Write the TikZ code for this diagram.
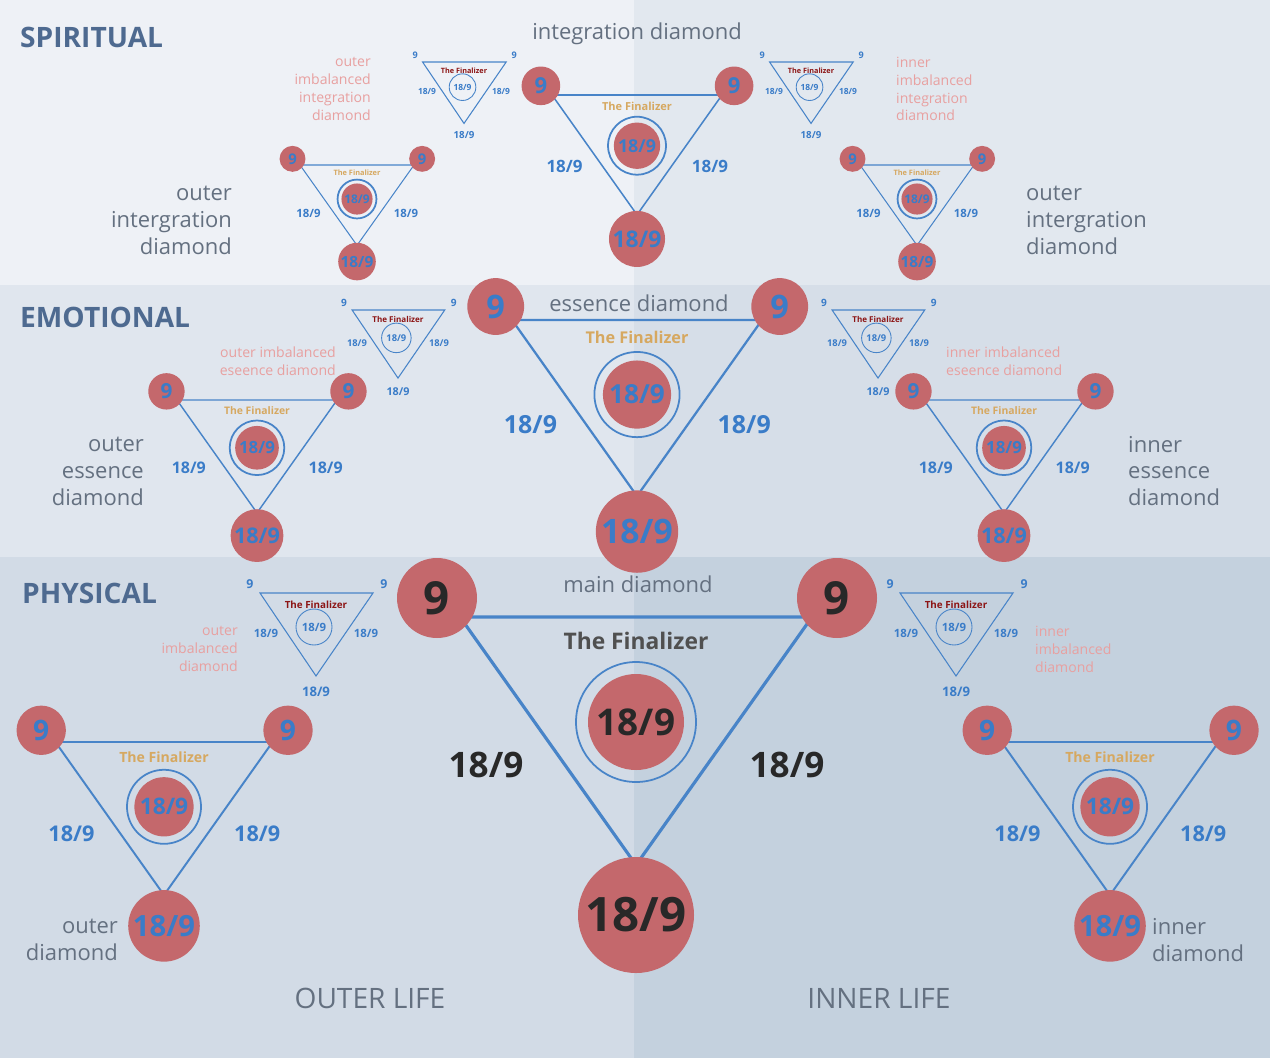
\documentclass[tikz,border=0pt]{standalone}
\usepackage{fontspec}
\setmainfont{Open Sans}
\usetikzlibrary{positioning}

\definecolor{bandSl}{RGB}{238,241,246}
\definecolor{bandSr}{RGB}{226,232,239}
\definecolor{bandEl}{RGB}{224,230,238}
\definecolor{bandEr}{RGB}{214,222,232}
\definecolor{bandPl}{RGB}{210,219,230}
\definecolor{bandPr}{RGB}{196,209,222}
\definecolor{dotred}{RGB}{196,104,108}
\definecolor{lineblue}{RGB}{72,132,200}
\definecolor{numblue}{RGB}{58,124,200}
\definecolor{gold}{RGB}{214,168,96}
\definecolor{darktxt}{RGB}{40,40,40}
\definecolor{finalgray}{RGB}{80,80,80}
\definecolor{bandtxt}{RGB}{78,106,144}
\definecolor{graytxt}{RGB}{100,112,128}
\definecolor{pinktxt}{RGB}{232,160,160}
\definecolor{darkred}{RGB}{140,20,20}

\tikzset{
  dotfill/.style={fill=dotred},
  ring/.style={draw=lineblue, line width=1pt},
  numtxt/.style={inner sep=0pt, font=\bfseries},
  bandlabel/.style={anchor=west, text=bandtxt, font=\fontsize{16}{16}\selectfont\bfseries},
  namelabel/.style={text=graytxt, font=\fontsize{12.5}{12.5}\selectfont},
  sidelabel/.style={text=graytxt, font=\fontsize{12.5}{15.3}\selectfont},
  pinklabel/.style={text=pinktxt, font=\fontsize{8}{10.2}\selectfont},
}

% #1 name, #2 x, #3 y, #4 scale, #5 number colour, #6 finalizer colour
\newcommand{\diamondset}[6]{%
\begin{scope}[shift={(#2,#3)}, scale=#4, transform shape]
  \coordinate (#1-a) at (-176,0);
  \coordinate (#1-b) at (176,0);
  \coordinate (#1-c) at (0,248);
  \draw[lineblue, line width={#4*1.8pt}, line join=round] (#1-a) -- (#1-b) -- (#1-c) -- cycle;
  \fill[dotfill] (-199,-19) circle (40);
  \fill[dotfill] (201,-19) circle (40);
  \fill[dotfill] (0,298) circle (58);
  \fill[dotfill] (0,105) circle (48);
  \draw[ring] (0,105) circle (60);
  \node[numtxt, text=#5, font=\fontsize{26}{26}\selectfont\bfseries] (#1-l) at (-199,-19) {9};
  \node[numtxt, text=#5, font=\fontsize{26}{26}\selectfont\bfseries] (#1-r) at (201,-19) {9};
  \node[numtxt, text=#5, font=\fontsize{27}{27}\selectfont\bfseries] (#1-bot) at (0,298) {18/9};
  \node[numtxt, text=#5, font=\fontsize{21}{21}\selectfont\bfseries] (#1-mid) at (0,105) {18/9};
  \node[numtxt, text=#6, font=\fontsize{13}{13}\selectfont\bfseries] (#1-fin) at (0,24) {The Finalizer};
  \node[numtxt, text=#5, font=\fontsize{20}{20}\selectfont\bfseries] (#1-sl) at (-150,148) {18/9};
  \node[numtxt, text=#5, font=\fontsize{20}{20}\selectfont\bfseries] (#1-sr) at (151,148) {18/9};
\end{scope}}

% #1 name, #2 x, #3 y, #4 scale
\newcommand{\imbalset}[4]{%
\begin{scope}[shift={(#2,#3)}, scale=#4, transform shape]
  \coordinate (#1-a) at (-56,0);
  \coordinate (#1-b) at (57,0);
  \coordinate (#1-c) at (0,83);
  \draw[lineblue, line width=0.6pt] (#1-a) -- (#1-b) -- (#1-c) -- cycle;
  \draw[lineblue, line width=0.5pt] (-2,34) circle (18);
  \node[numtxt, text=darkred, font=\fontsize{5.6}{5.6}\selectfont\bfseries] (#1-fin) at (0,12) {The Finalizer};
  \node[numtxt, text=numblue, font=\fontsize{6.5}{6.5}\selectfont\bfseries] (#1-mid) at (-2,34) {18/9};
  \node[numtxt, text=numblue, font=\fontsize{7}{7}\selectfont\bfseries] (#1-l) at (-66,-9) {9};
  \node[numtxt, text=numblue, font=\fontsize{7}{7}\selectfont\bfseries] (#1-r) at (68,-9) {9};
  \node[numtxt, text=numblue, font=\fontsize{7.5}{7.5}\selectfont\bfseries] (#1-bot) at (0,99) {18/9};
  \node[numtxt, text=numblue, font=\fontsize{6.5}{6.5}\selectfont\bfseries] (#1-sl) at (-50,40) {18/9};
  \node[numtxt, text=numblue, font=\fontsize{6.5}{6.5}\selectfont\bfseries] (#1-sr) at (50,40) {18/9};
\end{scope}}

\begin{document}
\begin{tikzpicture}[x=0.02cm, y=-0.02cm]
\useasboundingbox (0,0) rectangle (1270,1058);
% bands
\fill[bandSl] (0,0) rectangle (634,285);
\fill[bandSr] (634,0) rectangle (1270,285);
\fill[bandEl] (0,285) rectangle (634,557);
\fill[bandEr] (634,285) rectangle (1270,557);
\fill[bandPl] (0,557) rectangle (634,1058);
\fill[bandPr] (634,557) rectangle (1270,1058);

\node[bandlabel] (spiritual) at (14,37) {SPIRITUAL};
\node[bandlabel] (emotional) at (14,317) {EMOTIONAL};
\node[bandlabel] (physical) at (16,593) {PHYSICAL};

% big diamonds
\diamondset{main}{636}{617}{1}{darktxt}{finalgray}
\diamondset{ess}{637}{320}{0.71}{numblue}{gold}
\diamondset{integ}{637}{95}{0.483}{numblue}{gold}
\diamondset{ointeg}{357}{165}{0.324}{numblue}{gold}
\diamondset{iinteg}{917}{165}{0.324}{numblue}{gold}
\diamondset{oess}{257}{400}{0.455}{numblue}{gold}
\diamondset{iess}{1004}{400}{0.455}{numblue}{gold}
\diamondset{outer}{164}{742}{0.617}{numblue}{gold}
\diamondset{inner}{1110}{742}{0.617}{numblue}{gold}

% imbalanced diamonds
\imbalset{oimint}{464}{62}{0.74}
\imbalset{iimint}{811}{62}{0.74}
\imbalset{oimess}{398}{310}{0.82}
\imbalset{iimess}{878}{310}{0.82}
\imbalset{oimphy}{316}{593}{1}
\imbalset{iimphy}{956}{593}{1}

% names
\node[namelabel] (integname) at (637,34) {integration diamond};
\node[namelabel] (essname) at (639,303) {essence diamond};
\node[namelabel] (mainname) at (638,584) {main diamond};
\node[namelabel, font=\fontsize{16}{16}\selectfont] (outerlife) at (370,998) {OUTER LIFE};
\node[namelabel, font=\fontsize{16}{16}\selectfont] (innerlife) at (879,998) {INNER LIFE};

\node[sidelabel, align=right, anchor=east] (ointegtxt) at (238,220) {outer\\intergration\\diamond};
\node[sidelabel, align=left, anchor=west] (iintegtxt) at (1020,220) {outer\\intergration\\diamond};
\node[sidelabel, align=right, anchor=east] (oesstxt) at (150,471) {outer\\essence\\diamond};
\node[sidelabel, align=left, anchor=west] (iesstxt) at (1122,471) {inner\\essence\\diamond};
\node[sidelabel, align=right, anchor=east] (outertxt) at (124,940) {outer\\diamond};
\node[sidelabel, align=left, anchor=west] (innertxt) at (1146,940) {inner\\diamond};

\node[pinklabel, align=right, anchor=east] (oimintxt) at (377,89) {outer\\imbalanced\\integration\\diamond};
\node[pinklabel, align=left, anchor=west] (iimintxt) at (890,89) {inner\\imbalanced\\integration\\diamond};
\node[pinklabel, align=right, anchor=east] (oimesstxt) at (342,361) {outer imbalanced\\eseence diamond};
\node[pinklabel, align=left, anchor=west] (iimesstxt) at (940,361) {inner imbalanced\\eseence diamond};
\node[pinklabel, align=right, anchor=east] (oimphytxt) at (244,649) {outer\\imbalanced\\diamond};
\node[pinklabel, align=left, anchor=west] (iimphytxt) at (1029,649) {inner\\imbalanced\\diamond};
\end{tikzpicture}
\end{document}
